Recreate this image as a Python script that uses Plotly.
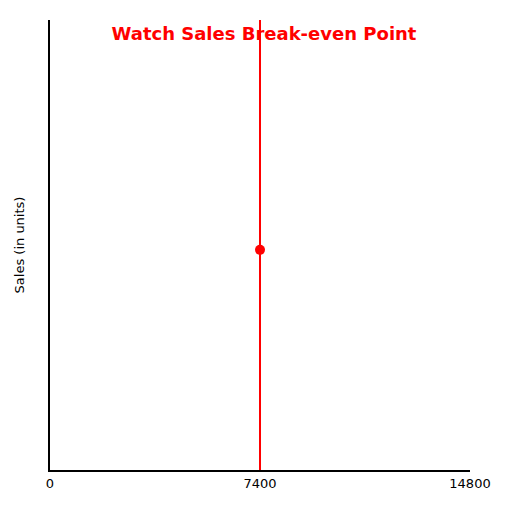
import plotly.graph_objs as go

# break-even data
break_even_x = 7400
break_even_sales = 7240
x_ticks = [0, 7400, 14800]
x_tick_labels = ["0", "7400", "14800"]
y_range = [0, 14800]

fig = go.Figure()
fig.add_trace(go.Scatter(
    x=[break_even_x, break_even_x], y=y_range, mode="lines",
    line=dict(color="red", width=2), showlegend=False
))
fig.add_trace(go.Scatter(
    x=[break_even_x], y=[break_even_sales], mode="markers",
    marker=dict(color="red", size=10), showlegend=False
))

fig.update_layout(
    width=512, height=512,
    margin=dict(l=42, r=50, t=12, b=50, autoexpand=False),
    plot_bgcolor="white", paper_bgcolor="white",
    font=dict(family="DejaVu Sans", size=13, color="black"),
    title=dict(text="<b>Watch Sales Break-even Point</b>", x=0.5, xanchor="center",
               y=0.949, yanchor="middle", font=dict(color="red", size=18)),
)
fig.update_xaxes(range=[0, 14800], tickvals=x_ticks, ticktext=x_tick_labels,
                 showgrid=False, zeroline=False, tickfont=dict(size=13),
                 showline=True, linecolor="black", linewidth=2, ticks="", ticklen=0)
fig.update_yaxes(range=y_range, showticklabels=False, showgrid=False, zeroline=False,
                 showline=True, linecolor="black", linewidth=2,
                 title=dict(text="Sales (in units)", standoff=20, font=dict(size=13)))

fig.write_html("out.html")
